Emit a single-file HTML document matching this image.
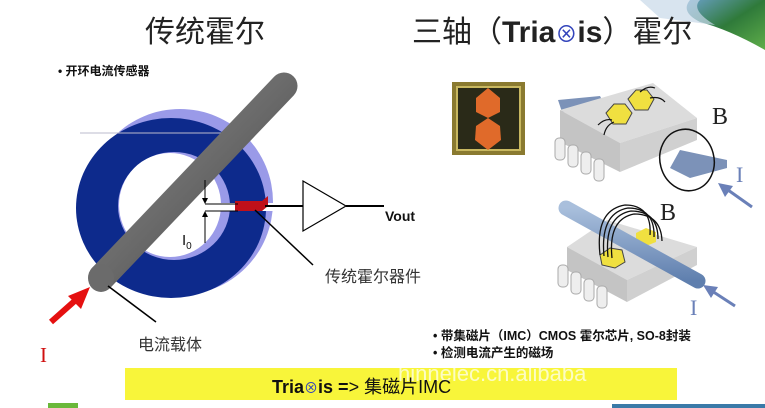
<!DOCTYPE html>
<html><head><meta charset="utf-8"><style>
html,body{margin:0;padding:0;background:#fff;}
svg{display:block}
</style></head><body>
<svg width="765" height="408" viewBox="0 0 765 408" xmlns="http://www.w3.org/2000/svg" font-family="'Liberation Sans','Noto Sans CJK SC',sans-serif">
<defs>
<linearGradient id="rod" x1="0" y1="0" x2="1" y2="1"><stop offset="0" stop-color="#8a8a8a"/><stop offset="0.5" stop-color="#6a6a6a"/><stop offset="1" stop-color="#444"/></linearGradient>
<linearGradient id="corner" x1="0" y1="0" x2="1" y2="1"><stop offset="0" stop-color="#6aa0c8"/><stop offset="0.5" stop-color="#2f7a3a"/><stop offset="1" stop-color="#5fae4a"/></linearGradient>
<linearGradient id="rod2" x1="0" y1="0" x2="0" y2="1"><stop offset="0" stop-color="#a9bfdc"/><stop offset="1" stop-color="#5f7fae"/></linearGradient>
</defs>
<path d="M690 0 L765 0 L765 50 Q730 30 700 22 Q680 12 690 0Z" fill="url(#corner)"/>
<path d="M640 0 L700 0 Q690 10 715 25 L660 18Z" fill="#c7d9e8" opacity="0.7"/>
<text x="145" y="42" font-size="30" fill="#222">传统霍尔</text>
<text x="412" y="42" font-size="30" fill="#222">三轴（<tspan font-weight="bold">Tria</tspan><tspan fill="#3344bb" font-size="22">⊗</tspan><tspan font-weight="bold">is</tspan>）霍尔</text>
<text x="58" y="75" font-size="12" font-weight="bold" fill="#111">• 开环电流传感器</text>
<!-- ring -->
<ellipse cx="180" cy="202" rx="93" ry="93" fill="#9a9ae8"/>
<ellipse cx="171" cy="208" rx="95" ry="90" fill="#0d2a8c"/>
<ellipse cx="174" cy="206" rx="56" ry="54" fill="#9a9ae8"/>
<ellipse cx="170" cy="205" rx="51" ry="52" fill="#fff"/>
<rect x="200" y="203" width="75" height="8" fill="#fff"/>
<line x1="80" y1="133" x2="250" y2="133" stroke="#bbc" stroke-width="1"/>
<line x1="102" y1="277" x2="284" y2="86" stroke="url(#rod)" stroke-width="27" stroke-linecap="round"/>
<ellipse cx="101" cy="278" rx="13" ry="14" fill="#6b6b6b"/>
<polygon points="235,201 262,201 268,196 268,206 262,211 235,211" fill="#c0101a"/>
<line x1="205" y1="204" x2="238" y2="204" stroke="#000" stroke-width="1"/>
<line x1="205" y1="211" x2="238" y2="211" stroke="#000" stroke-width="1"/>
<line x1="205" y1="180" x2="205" y2="200" stroke="#000"/><polygon points="202,198 208,198 205,204" fill="#000"/>
<line x1="205" y1="215" x2="205" y2="243" stroke="#000"/><polygon points="202,217 208,217 205,211" fill="#000"/>
<text x="182" y="245" font-size="15" fill="#111">I<tspan font-size="10" dy="4">0</tspan></text>
<line x1="265" y1="206" x2="303" y2="206" stroke="#000" stroke-width="2"/>
<polygon points="303,181 346,206 303,231" fill="#fff" stroke="#000" stroke-width="1.2"/>
<line x1="346" y1="206" x2="384" y2="206" stroke="#000" stroke-width="2"/>
<text x="385" y="221" font-size="14" font-weight="bold" fill="#111">Vout</text>
<line x1="255" y1="210" x2="313" y2="265" stroke="#000" stroke-width="1.5"/>
<text x="325" y="282" font-size="16" fill="#333">传统霍尔器件</text>
<line x1="108" y1="286" x2="156" y2="322" stroke="#000" stroke-width="1.5"/>
<text x="138" y="350" font-size="16" fill="#333">电流载体</text>
<line x1="51" y1="322" x2="78" y2="298" stroke="#e51010" stroke-width="6"/>
<polygon points="90,287 68,296 81,309" fill="#e51010"/>
<text x="40" y="362" font-size="21" font-family="'Liberation Serif',serif" fill="#d01010">I</text>
<!-- chip photo -->
<rect x="452" y="82" width="73" height="73" fill="#8a7a30"/>
<rect x="457" y="87" width="63" height="63" fill="#2a2a18" stroke="#c8b860" stroke-width="2"/>
<polygon points="488,88 500,98 500,112 488,118 476,112 476,98" fill="#e06a2a"/>
<polygon points="488,118 500,126 501,140 488,150 475,140 476,126" fill="#e06a2a"/>
<!-- upper package -->
<polygon points="558,100 600,96 610,115 562,112" fill="#7c92b8"/>
<polygon points="560,110 653,83 697,118 620,143" fill="#dcdcdc"/>
<polygon points="560,110 620,143 620,172 560,142" fill="#c4c4c4"/>
<polygon points="620,143 697,118 697,140 620,172" fill="#d0d0d0"/>
<polygon points="680,150 727,160 727,168 690,178 670,168" fill="#7c92b8"/>
<g fill="#eee" stroke="#aaa"><rect x="555" y="138" width="10" height="22" rx="4"/><rect x="568" y="145" width="10" height="22" rx="4"/><rect x="581" y="152" width="10" height="22" rx="4"/><rect x="594" y="159" width="10" height="22" rx="4"/></g>
<polygon points="606,113 614,104 625,104 632,113 626,124 613,124" fill="#f0e040" stroke="#444"/>
<polygon points="628,99 636,90 647,90 654,99 648,110 635,110" fill="#f0e040" stroke="#444"/>
<g fill="none" stroke="#111" stroke-width="1.2"><path d="M598 125 Q605 118 612 120"/><path d="M604 135 Q606 125 614 122"/><path d="M640 92 Q648 85 655 88"/><path d="M650 98 Q660 96 665 102"/></g>
<ellipse cx="687" cy="160" rx="27" ry="31" fill="none" stroke="#111" stroke-width="1.5" transform="rotate(-15 687 160)"/>
<text x="712" y="124" font-size="24" font-family="'Liberation Serif',serif" fill="#222">B</text>
<text x="736" y="182" font-size="22" font-family="'Liberation Serif',serif" fill="#6a80b8">I</text>
<line x1="752" y1="207" x2="728" y2="190" stroke="#6a80b8" stroke-width="3"/><polygon points="718,183 733,186 725,197" fill="#6a80b8"/>
<!-- lower package -->
<polygon points="567,247 607,220 697,247 627,280" fill="#dcdcdc"/>
<polygon points="567,247 627,280 627,302 567,270" fill="#c4c4c4"/>
<polygon points="627,280 697,247 697,265 627,302" fill="#d0d0d0"/>
<g fill="#eee" stroke="#aaa"><rect x="558" y="265" width="10" height="22" rx="4"/><rect x="571" y="272" width="10" height="22" rx="4"/><rect x="584" y="279" width="10" height="22" rx="4"/><rect x="597" y="286" width="10" height="22" rx="4"/></g>
<polygon points="600,255 610,248 622,250 625,262 615,268 602,265" fill="#f0e040" stroke="#444"/>
<polygon points="636,233 646,228 656,232 656,242 646,246 636,242" fill="#f0e040"/>
<line x1="566" y1="208" x2="698" y2="281" stroke="url(#rod2)" stroke-width="15" stroke-linecap="round"/>
<g fill="none" stroke="#111" stroke-width="1.3"><path d="M600 255 Q595 210 625 205 Q652 205 650 235"/><path d="M604 256 Q600 213 628 208 Q655 208 654 237"/><path d="M608 257 Q604 216 631 211 Q658 211 658 239"/><path d="M612 258 Q608 219 634 214 Q661 214 662 241"/></g>
<text x="660" y="220" font-size="24" font-family="'Liberation Serif',serif" fill="#222">B</text>
<text x="690" y="315" font-size="22" font-family="'Liberation Serif',serif" fill="#6a80b8">I</text>
<line x1="735" y1="306" x2="712" y2="291" stroke="#6a80b8" stroke-width="3"/><polygon points="703,285 718,287 711,298" fill="#6a80b8"/>
<text x="433" y="340" font-size="12.5" font-weight="bold" fill="#111">• 带集磁片（IMC）CMOS 霍尔芯片, SO-8封装</text>
<text x="433" y="357" font-size="12.5" font-weight="bold" fill="#111">• 检测电流产生的磁场</text>
<rect x="125" y="368" width="552" height="32" fill="#f8f53a"/>
<text x="398" y="381" font-size="22" fill="#fff" opacity="0.7">hinnelec.cn.alibaba</text>
<text x="272" y="393" font-size="18" fill="#111"><tspan font-weight="bold">Tria</tspan><tspan fill="#3344bb" font-size="14">⊗</tspan><tspan font-weight="bold">is =</tspan>&gt; 集磁片IMC</text>
<rect x="48" y="403" width="30" height="5" fill="#6ab83a"/>
<rect x="612" y="404" width="153" height="4" fill="#3a7aa8"/>
</svg>
</body></html>
